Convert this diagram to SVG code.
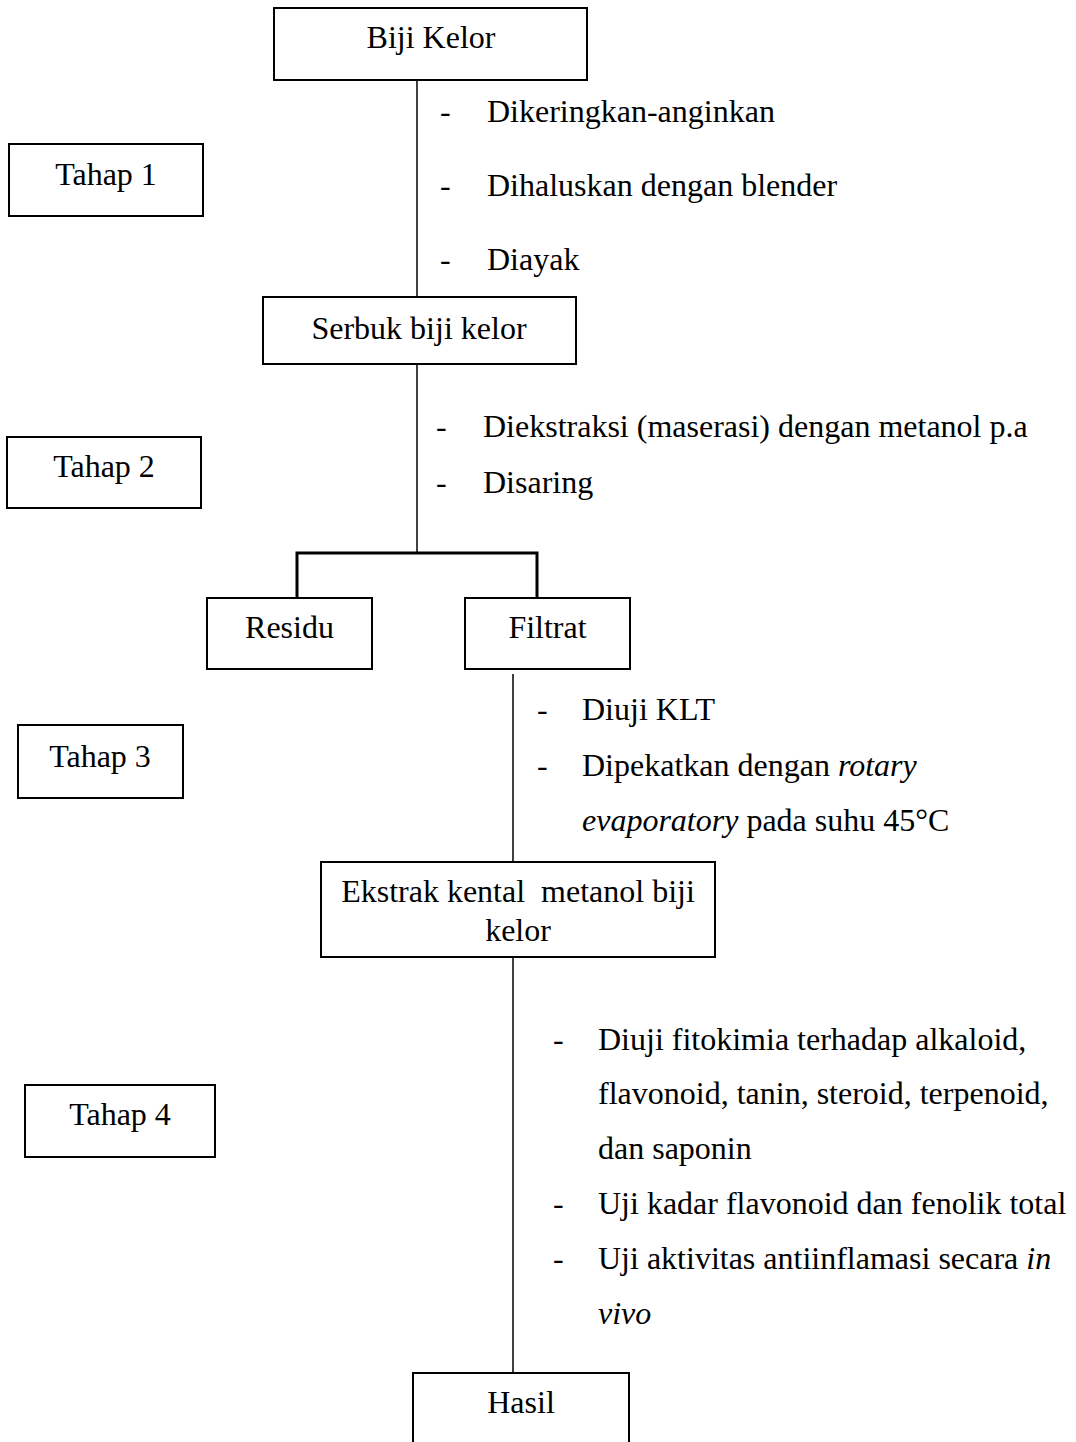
<svg xmlns="http://www.w3.org/2000/svg" width="1076" height="1442" viewBox="0 0 1076 1442">
<style>
text{font-family:"Liberation Serif","Times New Roman",serif;font-size:32px;fill:#000}
.c{text-anchor:middle}
.box{fill:#fff;stroke:#000;stroke-width:2}
.ln{stroke:#000;stroke-width:1.5;fill:none}
.br{stroke:#000;stroke-width:3;fill:none}
.i{font-style:italic}
</style>
<rect width="1076" height="1442" fill="#fff"/>
<g id="connectors">
<line class="ln" x1="417" y1="80" x2="417" y2="297"/>
<line class="ln" x1="417" y1="364" x2="417" y2="553"/>
<polyline class="br" points="297,598 297,553 537,553 537,598"/>
<line class="ln" x1="513" y1="674" x2="513" y2="862"/>
<line class="ln" x1="513" y1="957" x2="513" y2="1373"/>
</g>
<g id="biji-kelor"><rect class="box" x="274" y="8" width="313" height="72"/><text class="c" x="431" y="48">Biji Kelor</text></g>
<g id="tahap1"><rect class="box" x="9" y="144" width="194" height="72"/><text class="c" x="106" y="185">Tahap 1</text></g>
<g id="steps1">
<text x="440" y="122">-</text><text x="487" y="122">Dikeringkan-anginkan</text>
<text x="440" y="196">-</text><text x="487" y="196">Dihaluskan dengan blender</text>
<text x="440" y="270">-</text><text x="487" y="270">Diayak</text>
</g>
<g id="serbuk"><rect class="box" x="263" y="297" width="313" height="67"/><text class="c" x="419" y="339">Serbuk biji kelor</text></g>
<g id="tahap2"><rect class="box" x="7" y="437" width="194" height="71"/><text class="c" x="104" y="477">Tahap 2</text></g>
<g id="steps2">
<text x="436" y="437">-</text><text x="483" y="437">Diekstraksi (maserasi) dengan metanol p.a</text>
<text x="436" y="493">-</text><text x="483" y="493">Disaring</text>
</g>
<g id="residu"><rect class="box" x="207" y="598" width="165" height="71"/><text class="c" x="289.5" y="638">Residu</text></g>
<g id="filtrat"><rect class="box" x="465" y="598" width="165" height="71"/><text class="c" x="547.5" y="638">Filtrat</text></g>
<g id="tahap3"><rect class="box" x="18" y="725" width="165" height="73"/><text class="c" x="100" y="767">Tahap 3</text></g>
<g id="steps3">
<text x="537" y="720">-</text><text x="582" y="720">Diuji KLT</text>
<text x="537" y="776">-</text><text x="582" y="776">Dipekatkan dengan <tspan class="i">rotary</tspan></text>
<text x="582" y="831"><tspan class="i">evaporatory</tspan> pada suhu 45°C</text>
</g>
<g id="ekstrak"><rect class="box" x="321" y="862" width="394" height="95"/>
<text class="c" x="518" y="902" style="white-space:pre">Ekstrak kental  metanol biji</text><text class="c" x="518" y="941">kelor</text></g>
<g id="tahap4"><rect class="box" x="25" y="1085" width="190" height="72"/><text class="c" x="120" y="1125">Tahap 4</text></g>
<g id="steps4">
<text x="553" y="1050">-</text><text x="598" y="1050">Diuji fitokimia terhadap alkaloid,</text>
<text x="598" y="1104">flavonoid, tanin, steroid, terpenoid,</text>
<text x="598" y="1159">dan saponin</text>
<text x="553" y="1214">-</text><text x="598" y="1214">Uji kadar flavonoid dan fenolik total</text>
<text x="553" y="1269">-</text><text x="598" y="1269">Uji aktivitas antiinflamasi secara <tspan class="i">in</tspan></text>
<text x="598" y="1324" class="i">vivo</text>
</g>
<g id="hasil"><rect class="box" x="413" y="1373" width="216" height="90"/><text class="c" x="521" y="1413">Hasil</text></g>
</svg>
